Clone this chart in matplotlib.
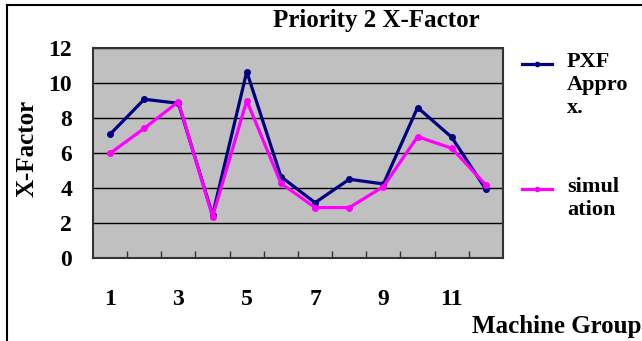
import matplotlib.pyplot as plt
from matplotlib.lines import Line2D

# ------------------------------------------
# Priority 2 X-Factor by machine group
# ------------------------------------------

groups = list(range(1, 13))
pxf_approx = [7.07, 9.07, 8.84, 2.46, 10.65, 4.65, 3.16, 4.5, 4.23, 8.6, 6.9, 3.92]
simulation = [5.98, 7.41, 8.93, 2.36, 8.99, 4.27, 2.88, 2.88, 4.08, 6.93, 6.27, 4.17]
x_labels = [1, 3, 5, 7, 9, 11]
y_ticks = [0, 2, 4, 6, 8, 10, 12]

W, H = 642, 341
plt.rcParams['font.family'] = ['Liberation Serif', 'DejaVu Serif']
plt.rcParams['font.weight'] = 'bold'

fig = plt.figure(figsize=(W / 100, H / 100), dpi=100)
ax = fig.add_axes([93 / W, (H - 258) / H, 410 / W, 210 / H])
ax.set_facecolor('#c0c0c0')

ax.plot(groups, pxf_approx, color='#000080', lw=2.3, marker='o', ms=4, zorder=3)
ax.plot(groups, simulation, color='#ff00ff', lw=2.3, marker='o', ms=4, zorder=3)

ax.set_xlim(0.5, 12.5)
ax.set_ylim(0, 12)

# tick marks between categories, labels on odd groups
ax.set_xticks([g + 0.5 for g in groups[:-1]])
ax.set_xticklabels([])
ax.tick_params(axis='x', which='major', direction='in', length=5, width=1, color='#333333')
ax.set_xticks(x_labels, minor=True)
ax.set_xticklabels([str(v) for v in x_labels], minor=True)
ax.tick_params(axis='x', which='minor', length=0, pad=22, labelsize=17)

ax.set_yticks(y_ticks)
ax.set_yticklabels([str(v) for v in y_ticks])
ax.tick_params(axis='y', length=0, pad=15, labelsize=17)
ax.grid(axis='y', color='black', lw=1)
ax.set_axisbelow(True)

for s in ax.spines.values():
    s.set_color('#333333')
    s.set_linewidth(1.5)

ax.set_ylabel('X-Factor', fontsize=18, fontweight='bold')
ax.yaxis.set_label_coords(-(93 - 39) / 410, 0.52)

fig.text(376 / W, 1 - 20 / H, 'Priority 2 X-Factor', ha='center', va='center',
         fontsize=18, fontweight='bold')
fig.text(1 - 1 / W, 1 - 326 / H, 'Machine Group', ha='right', va='center',
         fontsize=18, fontweight='bold')

# legend
for y, c in [(64, '#000080'), (189, '#ff00ff')]:
    fig.add_artist(Line2D([522 / W, 552 / W], [1 - y / H, 1 - y / H], color=c,
                          lw=2.3, transform=fig.transFigure))
    fig.add_artist(Line2D([537 / W], [1 - y / H], color=c, marker='o', ms=3,
                          transform=fig.transFigure))
fig.text(567 / W, 1 - 52 / H, 'PXF\nAppro\nx.', ha='left', va='top',
         fontsize=16, fontweight='bold', linespacing=1.2)
fig.text(567 / W, 1 - 177 / H, 'simul\nation', ha='left', va='top',
         fontsize=16, fontweight='bold', linespacing=1.2)

# outer frame
fig.add_artist(Line2D([7 / W, 7 / W], [0, 1 - 5 / H], color='black', lw=1.5,
                      transform=fig.transFigure))
fig.add_artist(Line2D([7 / W, 1], [1 - 5 / H, 1 - 5 / H], color='black', lw=1.5,
                      transform=fig.transFigure))

fig.savefig('out.png', dpi=100)
